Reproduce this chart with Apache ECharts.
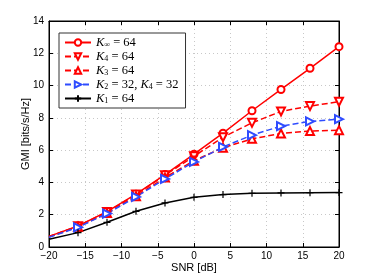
<!DOCTYPE html>
<html><head><meta charset="utf-8">
<script src="https://cdn.jsdelivr.net/npm/echarts@6/dist/echarts.min.js"></script>
<style>html,body{margin:0;padding:0;background:#fff}#c{width:374px;height:278px}</style>
</head><body><div id="c"></div>
<script>
var snr = [-20, -16, -12, -8, -4, 0, 4, 8, 12, 16, 20];
var kInf = [0.66, 1.30, 2.19, 3.27, 4.49, 5.75, 7.05, 8.44, 9.76, 11.07, 12.41];
var k4 = [0.65, 1.29, 2.17, 3.25, 4.45, 5.62, 6.80, 7.69, 8.40, 8.73, 9.00];
var k3 = [0.62, 1.25, 2.10, 3.15, 4.30, 5.35, 6.15, 6.70, 7.03, 7.18, 7.24];
var k2k4 = [0.60, 1.22, 2.07, 3.10, 4.22, 5.27, 6.20, 6.93, 7.49, 7.78, 7.92];
var k1 = [0.48, 0.89, 1.53, 2.21, 2.73, 3.08, 3.25, 3.33, 3.35, 3.36, 3.37];
var xTicks = [-20, -15, -10, -5, 0, 5, 10, 15, 20];
var yTicks = [0, 2, 4, 6, 8, 10, 12, 14];

function pts(ys) {
  return snr.map(function (x, i) {
    var d = {value: [x, ys[i]]};
    if (i === 0) d.symbol = 'none';
    return d;
  });
}
var RED = '#ff0000', BLUE = '#2f4cff', BLACK = '#000000';
function mk(name, ys, color, sym, dashed, rot, size) {
  return {
    name: name, type: 'line', data: pts(ys), symbol: sym, symbolSize: size || 7,
    symbolRotate: rot || 0, showSymbol: true,
    lineStyle: {color: color, width: 1.5, type: dashed ? [6, 3] : 'solid'},
    itemStyle: {color: color, borderColor: color, borderWidth: 1.2},
    emphasis: {disabled: true}, animation: false, z: 3
  };
}
var labels = {
  'kinf': '{k|K}{s|∞}{n| = 64}',
  'k4': '{k|K}{s|4}{n| = 64}',
  'k3': '{k|K}{s|3}{n| = 64}',
  'k24': '{k|K}{s|2}{n| = 32, }{k|K}{s|4}{n| = 32}',
  'k1': '{k|K}{s|1}{n| = 64}'
};
var chart = echarts.init(document.getElementById('c'), null, {renderer: 'canvas'});
var FONT = 'Liberation Sans, Arial, sans-serif';
var SERIF = 'Liberation Serif, DejaVu Serif, serif';
var axisCommon = {
  axisLine: {show: true, onZero: false, lineStyle: {color: '#000', width: 1}},
  axisTick: {show: true, inside: true, length: 4, lineStyle: {color: '#000'}},
  splitLine: {show: true, lineStyle: {color: '#c8c8c8', type: [1, 3], width: 1}},
  axisLabel: {color: '#000', fontFamily: FONT, fontSize: 10}
};
var mirror = {
  axisLine: {show: true, onZero: false, lineStyle: {color: '#000', width: 1}},
  axisTick: {show: true, inside: true, length: 4, lineStyle: {color: '#000'}},
  splitLine: {show: false},
  axisLabel: {show: false}
};
chart.setOption({
  backgroundColor: '#fff',
  animation: false,
  grid: {left: 49, right: 35, top: 21, bottom: 31, show: true, borderColor: '#000', borderWidth: 1, backgroundColor: 'transparent'},
  legend: {
    left: 59, top: 33, orient: 'vertical',
    data: ['kinf', 'k4', 'k3', 'k24', 'k1'],
    itemWidth: 26, itemHeight: 8, itemGap: 1,
    padding: [3, 7, 3, 5],
    borderColor: '#333', borderWidth: 1, backgroundColor: '#fff',
    selectedMode: false,
    formatter: function (n) { return labels[n]; },
    textStyle: {
      color: '#000', fontSize: 12, lineHeight: 12,
      rich: {
        k: {fontFamily: SERIF, fontStyle: 'italic', fontSize: 12.5, lineHeight: 12},
        s: {fontFamily: SERIF, fontSize: 8, lineHeight: 8, verticalAlign: 'bottom', padding: [4, 0, 0, 0]},
        n: {fontFamily: SERIF, fontSize: 12.5, lineHeight: 12}
      }
    }
  },
  xAxis: [Object.assign({}, axisCommon, {
    type: 'value', min: -20, max: 20, interval: 5,
    name: 'SNR [dB]', nameLocation: 'middle', nameGap: 15, nameMoveOverlap: false,
    nameTextStyle: {color: '#000', fontFamily: FONT, fontSize: 11},
    axisLabel: Object.assign({}, axisCommon.axisLabel, {margin: 4, customValues: xTicks, formatter: function (v) { return v < 0 ? '\u2212' + (-v) : '' + v; }})
  }), Object.assign({}, mirror, {type: 'value', position: 'top', min: -20, max: 20, interval: 5})],
  yAxis: [Object.assign({}, axisCommon, {
    type: 'value', min: 0, max: 14, interval: 2,
    name: 'GMI [bits/s/Hz]', nameLocation: 'middle', nameGap: 18, nameMoveOverlap: false,
    nameTextStyle: {color: '#000', fontFamily: FONT, fontSize: 11},
    axisLabel: Object.assign({}, axisCommon.axisLabel, {margin: 5})
  }), Object.assign({}, mirror, {type: 'value', position: 'right', min: 0, max: 14, interval: 2})],
  series: [
    mk('kinf', kInf, RED, 'emptyCircle', false),
    mk('k4', k4, RED, 'emptyTriangle', true, 180, 8),
    mk('k3', k3, RED, 'emptyTriangle', true, 0, 8),
    mk('k24', k2k4, BLUE, 'emptyTriangle', true, -90, 8),
    mk('k1', k1, BLACK, 'path://M0,-5L0,5M-5,0L5,0', false)
  ]
});
</script></body></html>
